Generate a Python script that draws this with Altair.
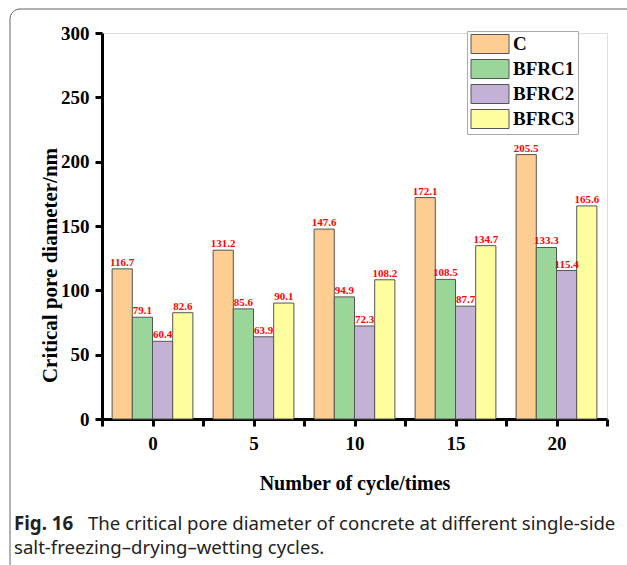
import altair as alt
import pandas as pd

cycles = [0, 5, 10, 15, 20]
series = ["C", "BFRC1", "BFRC2", "BFRC3"]
vals_C = [116.7, 131.2, 147.6, 172.1, 205.5]
vals_B1 = [79.1, 85.6, 94.9, 108.5, 133.3]
vals_B2 = [60.4, 63.9, 72.3, 87.7, 115.4]
vals_B3 = [82.6, 90.1, 108.2, 134.7, 165.6]
colors = ["#FECD91", "#9AD59A", "#C4B2D6", "#FEFE9F"]

rows = []
for si, (s, vs) in enumerate(zip(series, [vals_C, vals_B1, vals_B2, vals_B3])):
    for c, v in zip(cycles, vs):
        rows.append({"cycle": c, "series": s, "idx": si, "value": v,
                     "label": f"{v:.1f}"})
df = pd.DataFrame(rows)

W, H = 505, 386
FONT = "Liberation Serif"

xscale = alt.Scale(domain=[-2.5, 22.5], nice=False, zero=False)
yscale = alt.Scale(domain=[0, 300], nice=False)

base = alt.Chart(df).transform_calculate(
    x0="datum.cycle - 2 + datum.idx",
    x1="datum.cycle - 1 + datum.idx",
    xm="datum.cycle - 1.5 + datum.idx",
)

bars = base.mark_bar(stroke="#555555", strokeWidth=1).encode(
    x=alt.X("x0:Q", scale=xscale, title="Number of cycle/times",
            axis=alt.Axis(values=[-2.5, 0, 2.5, 5, 7.5, 10, 12.5, 15, 17.5, 20, 22.5],
                          labelExpr="datum.value % 5 == 0 ? datum.label : ''",
                          grid=False, domainColor="black", domainWidth=3,
                          tickColor="black", tickWidth=3, tickSize=7,
                          labelFont=FONT, labelFontWeight="bold", labelFontSize=19,
                          labelColor="black", labelPadding=8,
                          titleFont=FONT, titleFontWeight="bold", titleFontSize=20,
                          titleColor="black", titlePadding=20)),
    x2="x1:Q",
    y=alt.Y("value:Q", scale=yscale, title="Critical pore diameter/nm",
            axis=alt.Axis(values=list(range(0, 301, 25)),
                          labelExpr="datum.value % 50 == 0 ? datum.label : ''",
                          grid=False, domainColor="black", domainWidth=3,
                          tickColor="black", tickWidth=3, tickSize=7,
                          labelFont=FONT, labelFontWeight="bold", labelFontSize=19,
                          labelColor="black", labelPadding=6,
                          titleFont=FONT, titleFontWeight="bold", titleFontSize=21,
                          titleColor="black", titleX=-52, titleY=232,
                          titleAlign="center", titleBaseline="middle", titleAngle=270)),
    y2=alt.datum(0),
    color=alt.Color("series:N", scale=alt.Scale(domain=series, range=colors),
                    sort=series,
                    legend=alt.Legend(orient="none", legendX=365, legendY=-2, title=None,
                                      symbolType="M-2,-1H2V1H-2Z", symbolSize=361,
                                      symbolOffset=10,
                                      symbolStrokeColor="#555555", symbolStrokeWidth=1,
                                      symbolOpacity=1,
                                      labelFont=FONT, labelFontWeight="bold",
                                      labelFontSize=19, labelColor="black",
                                      strokeColor="#aaaaaa", fillColor="white",
                                      padding=3, rowPadding=1, labelOffset=13)),
)

texts = base.mark_text(baseline="bottom", dy=-1, font=FONT, fontWeight="bold",
                       fontSize=11, color="#FF0000").encode(
    x=alt.X("xm:Q", scale=xscale),
    y=alt.Y("value:Q", scale=yscale),
    text="label:N",
)

one = alt.Data(values=[{"a": 1}])
frame = alt.Chart(one).mark_rect(fill=None, stroke="#666666", strokeWidth=1,
                                 cornerRadius=10).encode(
    x=alt.value(-92), x2=alt.value(560), y=alt.value(-24), y2=alt.value(540))

cap1 = alt.Chart(one).mark_text(align="left", baseline="alphabetic", font="Noto Sans",
                                fontWeight="bold", fontSize=18.7, color="#222222").encode(
    x=alt.value(-88), y=alt.value(497), text=alt.value("Fig. 16"))
cap2 = alt.Chart(one).mark_text(align="left", baseline="alphabetic", font="Noto Sans",
                                fontSize=18.6, color="#222222").encode(
    x=alt.value(-14), y=alt.value(497),
    text=alt.value("The critical pore diameter of concrete at different single-side"))
cap3 = alt.Chart(one).mark_text(align="left", baseline="alphabetic", font="Noto Sans",
                                fontSize=18.6, color="#222222").encode(
    x=alt.value(-88), y=alt.value(521),
    text=alt.value("salt-freezing\u2013drying\u2013wetting cycles."))

chart = alt.layer(frame, bars, texts, cap1, cap2, cap3).properties(
    width=W, height=H,
    autosize=alt.AutoSizeParams(type="none"),
    padding={"left": 102, "top": 33, "right": 20, "bottom": 146},
).configure_view(stroke=None).configure(background="white")

chart.save("out.html", embed_options={"renderer": "svg", "actions": False})
